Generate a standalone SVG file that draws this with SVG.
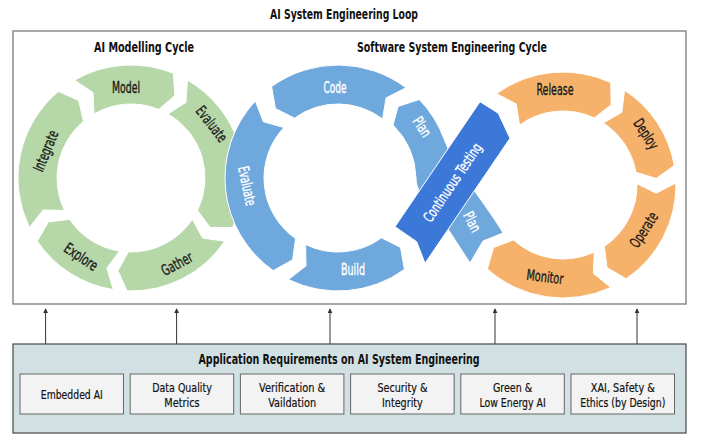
<svg xmlns="http://www.w3.org/2000/svg" width="701" height="437" viewBox="0 0 701 437">
<defs>
<style>
text{font-family:'Liberation Sans Narrow','DejaVu Sans Condensed','Liberation Sans',sans-serif;text-anchor:middle;dominant-baseline:central}
.ttl{font-weight:bold;font-size:13.5px;fill:#111}
.lbl{font-size:15px}
.dk{fill:#1a1a1a;stroke:#1a1a1a;stroke-width:0.35}
.wt{fill:#fff;stroke:#fff;stroke-width:0.35}
.g{fill:#b6d7a8;stroke:#fff;stroke-width:1}
.b{fill:#6fa8dc;stroke:#fff;stroke-width:1}
.ct{fill:#3c78d8;stroke:#fff;stroke-width:1}
.o{fill:#f6b26b;stroke:#fff;stroke-width:1}
.box{fill:#f3f3f3;stroke:#666;stroke-width:1}
.bt{font-size:13px;fill:#111;stroke:#111;stroke-width:0.2}
.arr{stroke:#333;stroke-width:1;fill:none;marker-end:url(#ah)}
</style>
<marker id="ah" viewBox="0 0 6 6" refX="5" refY="3" markerWidth="5" markerHeight="5" orient="auto" markerUnits="userSpaceOnUse">
<path d="M0,0 L6,3 L0,6 Z" fill="#333"/>
</marker>
</defs>
<rect width="701" height="437" fill="#fff"/>
<text class="ttl" x="344" y="14" textLength="148" lengthAdjust="spacingAndGlyphs">AI System Engineering Loop</text>
<rect id="frame" x="13" y="31" width="673" height="273" fill="#fff" stroke="#7a7a7a" stroke-width="1.3"/>
<text class="ttl" x="144" y="47" textLength="100" lengthAdjust="spacingAndGlyphs">AI Modelling Cycle</text>
<text class="ttl" x="452" y="47" textLength="190" lengthAdjust="spacingAndGlyphs">Software System Engineering Cycle</text>

<g id="ai-modelling-cycle">
<g id="g-model"><path class="g" d="M74.5,80.14 A113,113 0 0 1 173.33,73.23 L174.9,95.45 L158.72,109.39 A74,74 0 0 0 94,113.91 L92.97,92.59 Z"/><text class="lbl dk" x="126" y="88" textLength="28" lengthAdjust="spacingAndGlyphs">Model</text></g>
<g id="g-evaluate"><path class="g" d="M187.5,80.14 A113,113 0 0 1 232.56,227.54 L210.29,227.55 L197.51,210.44 A74,74 0 0 0 168,113.91 L185.96,102.36 Z"/><text class="lbl dk" transform="translate(211.5,124) rotate(52)" textLength="41" lengthAdjust="spacingAndGlyphs">Evaluate</text></g>
<g id="g-gather"><path class="g" d="M224.68,241.19 A113,113 0 0 1 127.06,290.93 L117.99,270.59 L128.42,251.96 A74,74 0 0 0 192.35,219.38 L202.62,238.1 Z"/><text class="lbl dk" transform="translate(177,264) rotate(-28)" textLength="33" lengthAdjust="spacingAndGlyphs">Gather</text></g>
<g id="g-explore"><path class="g" d="M113.33,289.61 A113,113 0 0 1 37.32,241.19 L48.45,221.9 L69.65,219.38 A74,74 0 0 0 119.43,251.09 L106.8,268.31 Z"/><text class="lbl dk" transform="translate(81,257) rotate(34)" textLength="37" lengthAdjust="spacingAndGlyphs">Explore</text></g>
<g id="g-integrate"><path class="g" d="M29.44,227.54 A113,113 0 0 1 58.36,91.44 L78.71,100.49 L83.43,121.32 A74,74 0 0 0 64.49,210.44 L43.14,209.98 Z"/><text class="lbl dk" transform="translate(46,151) rotate(-68)" textLength="43" lengthAdjust="spacingAndGlyphs">Integrate</text></g>
</g>

<g id="software-cycle">
<g id="b-code"><path class="b" d="M271.58,86.58 A113,113 0 0 1 406,87.76 L386.15,97.85 L382.53,118.9 A74,74 0 0 0 294.5,118.13 L275.44,108.52 Z"/><text class="lbl wt" x="335" y="88" textLength="23" lengthAdjust="spacingAndGlyphs">Code</text></g>
<g id="b-evaluate"><path class="b" d="M273.18,270.57 A113,113 0 0 1 255.35,100.93 L263.33,121.73 L283.88,127.53 A74,74 0 0 0 295.55,238.62 L292.67,259.78 Z"/><text class="lbl wt" transform="translate(247,186) rotate(78)" textLength="40" lengthAdjust="spacingAndGlyphs">Evaluate</text></g>
<g id="b-build"><path class="b" d="M404.42,269.42 A113,113 0 0 1 288.46,279.56 L306.02,265.86 L305.56,244.51 A74,74 0 0 0 381.5,237.87 L400.56,247.48 Z"/><text class="lbl wt" x="353" y="270" textLength="24" lengthAdjust="spacingAndGlyphs">Build</text></g>
<g id="b-plan"><path class="b" d="M419.28,99.5 A113,113 0 0 1 444.19,139.35 C454.5,167.5 488,207 503,233 L483,241 L470,263 L450,232 C438,213 416,198 416,178 A78,78 0 0 0 393,125 L398.1,106.38 Z"/><text class="lbl wt" transform="translate(422,127) rotate(57)" textLength="21" lengthAdjust="spacingAndGlyphs">Plan</text><text class="lbl wt" transform="translate(472,222) rotate(62)" textLength="21" lengthAdjust="spacingAndGlyphs">Plan</text></g>
<g id="continuous-testing"><path class="ct" d="M395,226.7 L480,101.7 L498.3,113.3 L510,138.3 L425,263.3 L416.7,241.7 Z"/><text class="wt" font-size="14.5" transform="translate(452.5,182.5) rotate(-55.8)" textLength="92" lengthAdjust="spacingAndGlyphs">Continuous Testing</text></g>
<g id="o-release"><path class="o" d="M496.58,93.58 A113,113 0 0 1 610.75,82.59 L611.15,104.85 L594.27,117.93 A74,74 0 0 0 519.5,125.13 L516.25,104.03 Z"/><text class="lbl dk" x="555" y="90" textLength="37" lengthAdjust="spacingAndGlyphs">Release</text></g>
<g id="o-deploy"><path class="o" d="M624.54,90.23 A113,113 0 0 1 674.28,165.38 L656.28,178.48 L635.88,172.15 A74,74 0 0 0 603.3,122.94 L621.84,112.34 Z"/><text class="lbl dk" transform="translate(646,134) rotate(57)" textLength="33" lengthAdjust="spacingAndGlyphs">Deploy</text></g>
<g id="o-operate"><path class="o" d="M675.98,183.02 A113,113 0 0 1 626.19,278.68 L606.9,267.55 L604.38,246.35 A74,74 0 0 0 636.99,183.7 L656.14,193.15 Z"/><text class="lbl dk" transform="translate(644,230) rotate(-57)" textLength="39" lengthAdjust="spacingAndGlyphs">Operate</text></g>
<g id="o-monitor"><path class="o" d="M610.75,287.41 A113,113 0 0 1 487.39,268.97 L493.52,247.56 L513.49,239.99 A74,74 0 0 0 594.27,252.07 L593.44,273.4 Z"/><text class="lbl dk" transform="translate(545,277) rotate(7)" textLength="37" lengthAdjust="spacingAndGlyphs">Monitor</text></g>
</g>

<g id="connectors">
<line class="arr" x1="45.6" y1="344" x2="45.6" y2="309"/>
<line class="arr" x1="176.6" y1="344" x2="176.6" y2="309"/>
<line class="arr" x1="330" y1="344" x2="330" y2="309"/>
<line class="arr" x1="495" y1="344" x2="495" y2="309"/>
<line class="arr" x1="637" y1="344" x2="637" y2="309"/>
</g>

<g id="requirements">
<rect x="13" y="344" width="673" height="89" fill="#d0e0e3" stroke="#555" stroke-width="1.3"/>
<text class="ttl" x="339" y="359" textLength="281" lengthAdjust="spacingAndGlyphs">Application Requirements on AI System Engineering</text>
<g id="req-embedded"><rect class="box" x="20" y="374" width="103.5" height="40"/><text class="bt" x="71.8" y="394" textLength="62" lengthAdjust="spacingAndGlyphs">Embedded AI</text></g>
<g id="req-data"><rect class="box" x="130.2" y="374" width="103.5" height="40"/><text class="bt" x="182" y="387" textLength="59.5" lengthAdjust="spacingAndGlyphs">Data Quality</text><text class="bt" x="182" y="402" textLength="35.3" lengthAdjust="spacingAndGlyphs">Metrics</text></g>
<g id="req-verif"><rect class="box" x="240.4" y="374" width="103.5" height="40"/><text class="bt" x="292.2" y="387" textLength="66.2" lengthAdjust="spacingAndGlyphs">Verification &amp;</text><text class="bt" x="292.2" y="402" textLength="47.8" lengthAdjust="spacingAndGlyphs">Vaildation</text></g>
<g id="req-security"><rect class="box" x="350.6" y="374" width="103.5" height="40"/><text class="bt" x="402.4" y="387" textLength="50" lengthAdjust="spacingAndGlyphs">Security &amp;</text><text class="bt" x="402.4" y="402" textLength="40.7" lengthAdjust="spacingAndGlyphs">Integrity</text></g>
<g id="req-green"><rect class="box" x="460.8" y="374" width="103.5" height="40"/><text class="bt" x="512.6" y="387" textLength="39.3" lengthAdjust="spacingAndGlyphs">Green &amp;</text><text class="bt" x="512.6" y="402" textLength="66.2" lengthAdjust="spacingAndGlyphs">Low Energy AI</text></g>
<g id="req-xai"><rect class="box" x="571" y="374" width="103.5" height="40"/><text class="bt" x="622.8" y="387" textLength="64" lengthAdjust="spacingAndGlyphs">XAI, Safety &amp;</text><text class="bt" x="622.8" y="402" textLength="85" lengthAdjust="spacingAndGlyphs">Ethics (by Design)</text></g>
</g>
</svg>
